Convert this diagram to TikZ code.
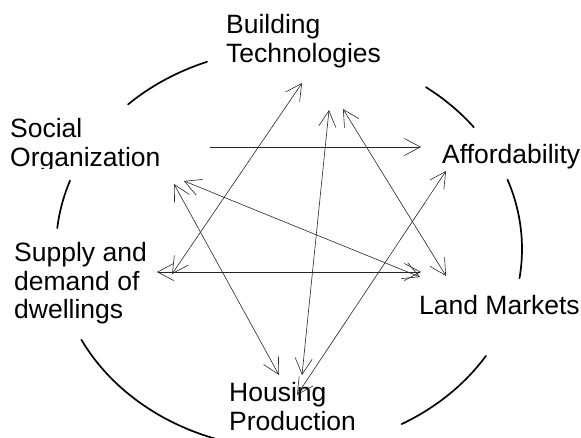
\documentclass[tikz,border=0pt]{standalone}
\usepackage{fontspec}
\setmainfont{Liberation Sans}
\usetikzlibrary{arrows.meta}
\begin{document}
\begin{tikzpicture}[x=1pt,y=-1pt,
  lbl/.style={anchor=base west,inner sep=0pt,font=\fontsize{26.5}{28.5}\selectfont},
  ring/.style={line width=1.7pt,line cap=round},
  tipb/.tip={Straight Barb[length=16pt,width=17pt]},
  link/.style={line width=0.6pt,black!85,tipb-tipb},
  onelink/.style={line width=0.6pt,black!85,-tipb}]
\useasboundingbox (0,0) rectangle (581,437);

% labels
\node[lbl] (bt) at (226,33.5) {\begin{tabular}[t]{@{}l@{}}Building\\Technologies\end{tabular}};
\begin{scope}
  \clip (0,0) rectangle (230,168);
  \node[lbl] (so) at (10,137.5) {\begin{tabular}[t]{@{}l@{}}Social\\Organization\end{tabular}};
\end{scope}
\node[lbl] (af) at (442,163) {Affordability};
\node[lbl] (sd) at (14,261.5) {\begin{tabular}[t]{@{}l@{}}Supply and\\demand of\\dwellings\end{tabular}};
\node[lbl] (lm) at (419,314) {Land Markets};
\node[lbl] (hp) at (229,401.5) {\begin{tabular}[t]{@{}l@{}}Housing\\Production\end{tabular}};

% ring arcs (centre (289,249), radii 233 x 200)
\coordinate (c) at (289,249);
\draw[ring] (c) ++(-110.6:233 and 200) arc[start angle=-110.6,end angle=-133.7,x radius=233,y radius=200];
\draw[ring] (c) ++(-37.5:233 and 200) arc[start angle=-37.5,end angle=-54,x radius=233,y radius=200];
\draw[ring] (c) ++(8.4:233 and 200) arc[start angle=8.4,end angle=-20.3,x radius=233,y radius=200];
\draw[ring] (c) ++(32.3:233 and 200) arc[start angle=32.3,end angle=61.1,x radius=233,y radius=200];
\draw[ring] (c) ++(108:233 and 200) arc[start angle=108,end angle=153,x radius=233,y radius=200];
\draw[ring] (c) ++(-160:233 and 200) arc[start angle=-160,end angle=-174,x radius=233,y radius=200];

% connector end points
\coordinate (so0) at (210,147);
\coordinate (so1) at (174,184);
\coordinate (so2) at (184,181);
\coordinate (bt1) at (302,83);
\coordinate (bt2) at (329,110);
\coordinate (bt3) at (343,109);
\coordinate (af1) at (421,147);
\coordinate (af2) at (446,171);
\coordinate (sd1) at (157,272);
\coordinate (sd2) at (172,274);
\coordinate (lm1) at (421,272);
\coordinate (lm2) at (420,277);
\coordinate (lm3) at (446,276);
\coordinate (hp1) at (279,375);
\coordinate (hp2) at (302,375);
\coordinate (hp3) at (297,395);

% connectors
\draw[onelink] (so0) -- (af1);
\draw[link] (bt1) -- (sd2);
\draw[link] (sd1) -- (lm1);
\draw[link] (so1) -- (hp1);
\draw[link] (so2) -- (lm2);
\draw[link] (bt2) -- (hp2);
\draw[link] (bt3) -- (lm3);
\draw[link] (af2) -- (hp3);
\end{tikzpicture}
\end{document}
